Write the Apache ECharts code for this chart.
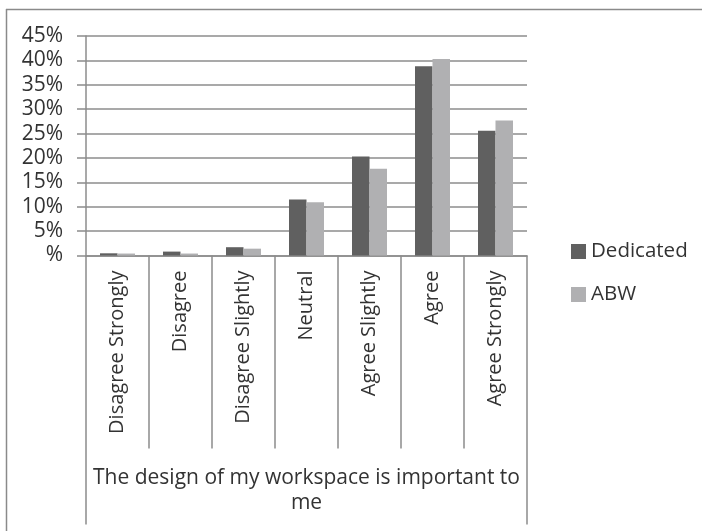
<!DOCTYPE html>
<html>
<head>
<meta charset="utf-8">
<script src="https://cdn.jsdelivr.net/npm/echarts@6/dist/echarts.min.js"></script>
<style>html,body{margin:0;padding:0;background:#fff;}#c{width:702px;height:531px;}</style>
</head>
<body>
<div id="c"></div>
<script>
var categories = ['Disagree Strongly','Disagree','Disagree Slightly','Neutral','Agree Slightly','Agree','Agree Strongly'];
var groupLabel = ['The design of my workspace is important to\nme'];
var dedicated = [0.45, 0.8, 1.7, 11.5, 20.3, 38.8, 25.6];
var abw = [0.4, 0.4, 1.4, 10.9, 17.8, 40.3, 27.7];
var seriesNames = ['Dedicated', 'ABW'];

var font = 'Open Sans';
var chart = echarts.init(document.getElementById('c'));
chart.setOption({
  animation: false,
  backgroundColor: '#fff',
  textStyle: { fontFamily: font },
  grid: { left: 86, right: 175, top: 36, bottom: 275.5, containLabel: false },
  graphic: [
    { type: 'line', shape: { x1: 6, y1: 9.5, x2: 702, y2: 9.5 }, style: { stroke: '#8a8a8a', lineWidth: 1.5 } },
    { type: 'line', shape: { x1: 6.5, y1: 9, x2: 6.5, y2: 531 }, style: { stroke: '#8a8a8a', lineWidth: 1.5 } }
  ],
  legend: {
    orient: 'vertical', left: 566, top: 236,
    itemWidth: 15, itemHeight: 15, itemGap: 22,
    icon: 'rect',
    textStyle: { fontFamily: font, fontSize: 20.5, color: '#333' },
    data: seriesNames
  },
  xAxis: [
    {
      type: 'category', data: categories, position: 'bottom',
      axisLine: { show: true, lineStyle: { color: '#8c8c8c', width: 1.5 } },
      axisTick: { show: true, interval: 0, length: 193, lineStyle: { color: '#8c8c8c', width: 1.5 } },
      axisLabel: { interval: 0, rotate: 90, margin: 15, fontSize: 20, color: '#333', fontFamily: font }
    },
    {
      type: 'category', data: groupLabel, position: 'bottom',
      axisLine: { show: false },
      axisTick: { show: true, length: 269, lineStyle: { color: '#8c8c8c', width: 1.5 } },
      axisLabel: { margin: 210, fontSize: 21, lineHeight: 25, color: '#333', fontFamily: font }
    }
  ],
  yAxis: {
    type: 'value', min: 0, max: 45, interval: 5,
    axisLine: { show: true, lineStyle: { color: '#8c8c8c', width: 1.5 } },
    axisTick: { show: true, length: 9, lineStyle: { color: '#8c8c8c', width: 1.5 } },
    splitLine: { show: true, lineStyle: { color: '#8c8c8c', width: 1.5 } },
    axisLabel: { margin: 23, fontSize: 21, color: '#333', fontFamily: font,
      formatter: function (v) { return v === 0 ? '%' : v + '%'; } }
  },
  series: [
    { name: seriesNames[0], type: 'bar', data: dedicated, barWidth: 17.5, barGap: '0%', itemStyle: { color: '#606060' } },
    { name: seriesNames[1], type: 'bar', data: abw, barWidth: 17.5, barGap: '0%', itemStyle: { color: '#b0b0b2' } }
  ]
});
</script>
</body>
</html>
